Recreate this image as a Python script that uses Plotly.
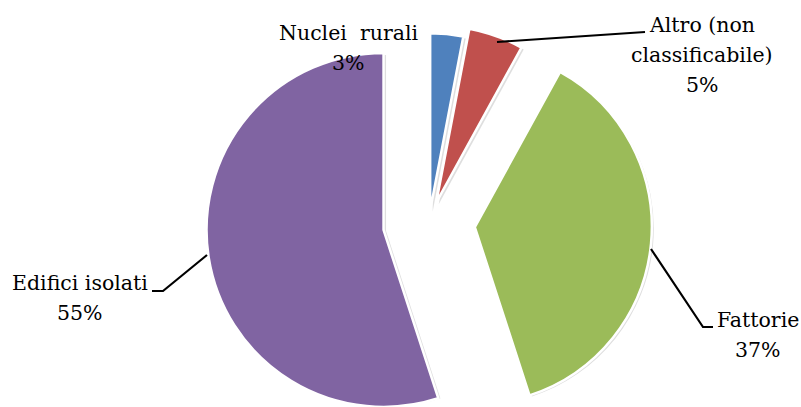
import math
import plotly.graph_objects as go

# ---- data ----
categories = ["Nuclei rurali", "Altro (non classificabile)", "Fattorie", "Edifici isolati"]
values = [3, 5, 37, 55]
label_lines = [["Nuclei\u00a0 rurali"], ["Altro (non", "classificabile)"], ["Fattorie"], ["Edifici isolati"]]
colors = ["#4F81BD", "#C0504D", "#9BBB59", "#8064A2"]
explode = [0.07, 0.12, 0.26, 0.26]   # fraction of radius each slice is pulled out

# ---- layout geometry (pixels) ----
W, H = 801, 407
CX, CY = 429.0, 222.7   # centre of the un-exploded pie
R = 177.0

def dom(cx, cy, r):
    x0 = max(0.0, (cx - r) / W); x1 = min(1.0, (cx + r) / W)
    y0 = max(0.0, 1 - (cy + r) / H); y1 = min(1.0, 1 - (cy - r) / H)
    return dict(x=[x0, x1], y=[y0, y1])

total = sum(values)
cum = 0.0
mids = []
for v in values:
    mids.append((cum + v / 2) / total * 360.0)
    cum += v

fig = go.Figure()
centres = []
for i, m in enumerate(mids):
    d = explode[i] * R
    cx = CX + d * math.sin(math.radians(m))
    cy = CY - d * math.cos(math.radians(m))
    centres.append((cx, cy))

def slice_trace(i, cx, cy, r, col, lw, lcol):
    cols = ["rgba(0,0,0,0)"] * len(values)
    cols[i] = col
    lws = [0] * len(values)
    lws[i] = lw
    return go.Pie(
        labels=categories, values=values, sort=False, direction="clockwise",
        rotation=0, textinfo="none", hoverinfo="label+percent",
        marker=dict(colors=cols, line=dict(color=lcol, width=lws)),
        domain=dom(cx, cy, r), showlegend=False,
    )

# soft shadows first
for i, (cx, cy) in enumerate(centres):
    fig.add_trace(slice_trace(i, cx + 2.5, cy + 1.5, R - 0.5, "rgba(0,0,0,0.13)", 0, "rgba(0,0,0,0)"))
# slices
for i, (cx, cy) in enumerate(centres):
    fig.add_trace(slice_trace(i, cx, cy, R, colors[i], 2.5, "white"))

# ---- labels (one annotation per line, baseline positions in px) ----
FAMILY = "DejaVu Serif"
FS = 20.5
LINE = 30.0
label_pos = [(348, 40), (702, 32), (758, 327), (80, 290)]   # centre x, first baseline
font = dict(family=FAMILY, size=FS, color="black")
for i, (px, base) in enumerate(label_pos):
    pct = round(values[i] / total * 100)
    lines = label_lines[i] + [f"{pct}%"]
    for k, txt in enumerate(lines):
        yc = base + k * LINE - 0.33 * FS
        fig.add_annotation(
            x=px / W, y=1 - yc / H, xref="paper", yref="paper",
            text=txt, showarrow=False,
            xanchor="center", yanchor="middle", align="center", font=font,
        )

# ---- leader lines ----
leaders = [
    [(497, 42), (645, 32)],
    [(651, 249), (703, 327), (713, 327)],
    [(152, 291), (163, 291), (207, 255)],
]
for pts in leaders:
    path = "M " + " L ".join(f"{x / W:.5f},{1 - y / H:.5f}" for x, y in pts)
    fig.add_shape(type="path", path=path, xref="paper", yref="paper",
                  line=dict(color="black", width=2.2))

fig.update_layout(
    width=W, height=H, margin=dict(l=0, r=0, t=0, b=0),
    paper_bgcolor="white", plot_bgcolor="white",
    font=dict(family=FAMILY),
)
fig.write_html("out.html", config={"displayModeBar": False},
               post_script="document.body.style.margin='0px';document.body.style.overflow='hidden';")
